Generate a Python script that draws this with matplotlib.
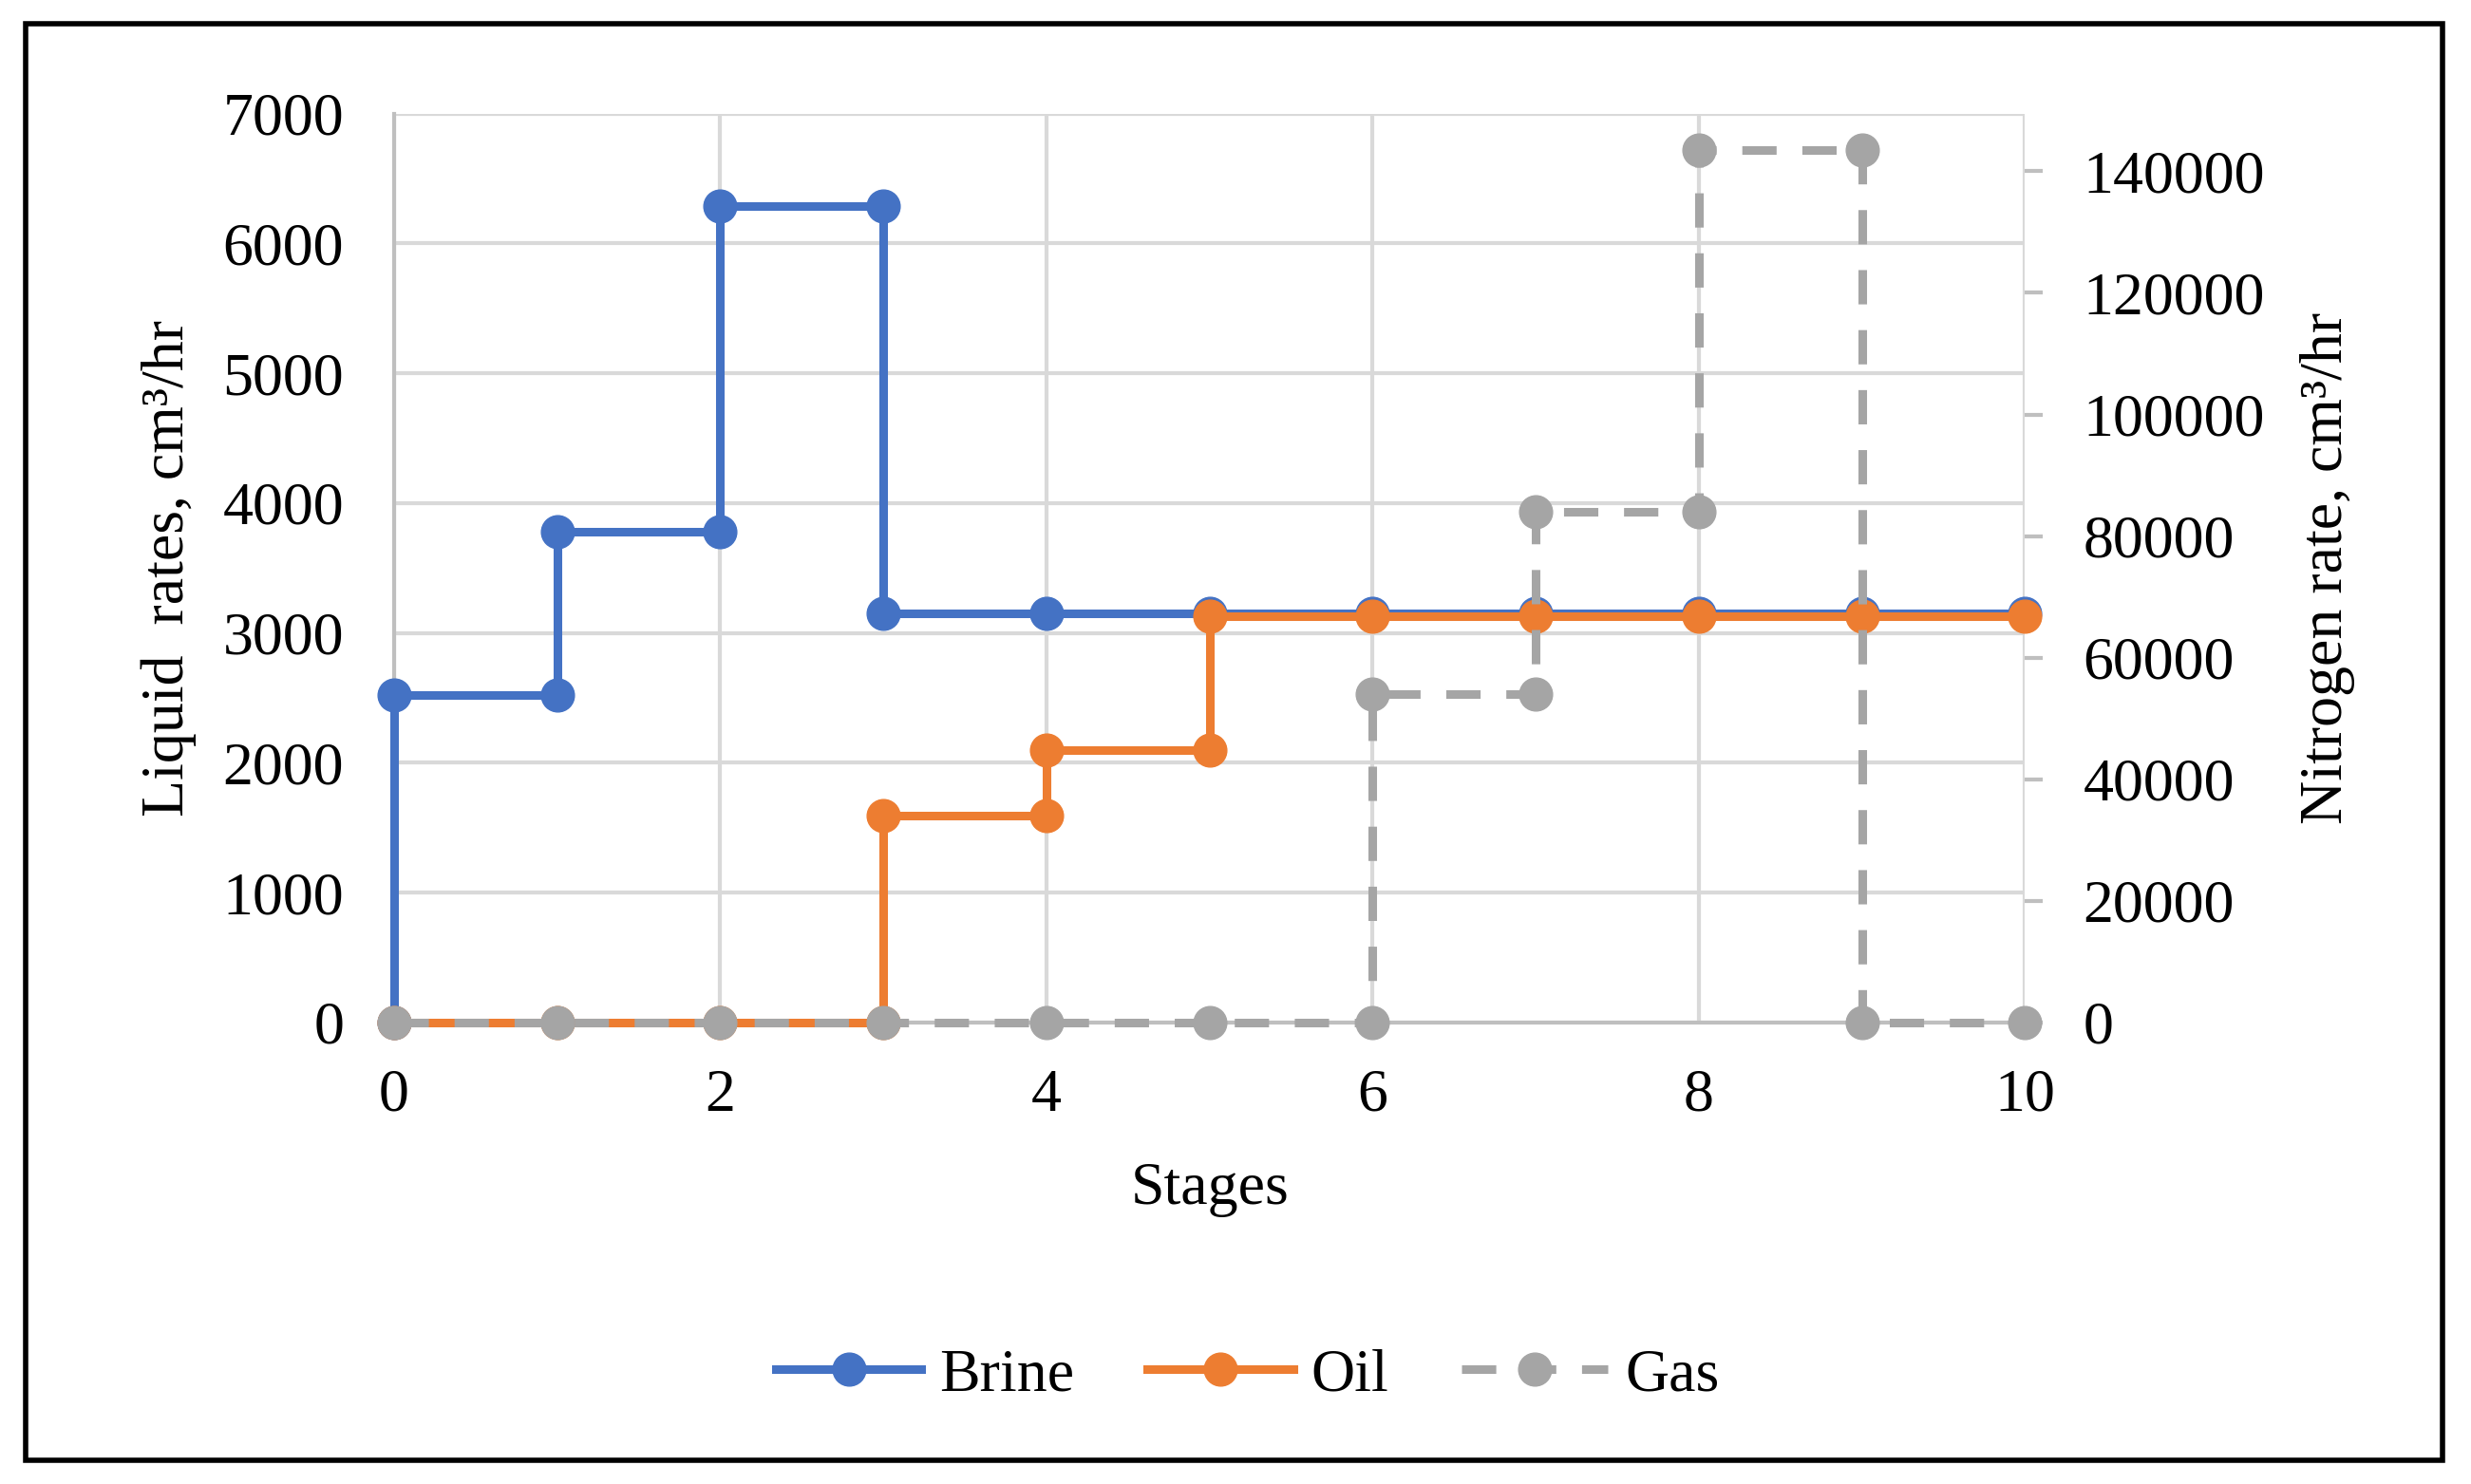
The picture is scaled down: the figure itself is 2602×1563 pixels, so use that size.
import matplotlib.pyplot as plt
from matplotlib.patches import Rectangle

# dados (escadas: pontos repetidos no mesmo estágio)
brine_x = [0, 0, 1, 1, 2, 2, 3, 3, 4, 5, 6, 7, 8, 9, 10]
brine_y = [0, 2520, 2520, 3780, 3780, 6290, 6290, 3150, 3150, 3150, 3150, 3150, 3150, 3150, 3150]

oil_x = [0, 1, 2, 3, 3, 4, 4, 5, 5, 6, 7, 8, 9, 10]
oil_y = [0, 0, 0, 0, 1590, 1590, 2100, 2100, 3130, 3130, 3130, 3130, 3130, 3130]

gas_x = [0, 1, 2, 3, 4, 5, 6, 6, 7, 7, 8, 8, 9, 9, 10]
gas_y = [0, 0, 0, 0, 0, 0, 0, 54000, 54000, 84000, 84000, 143500, 143500, 0, 0]

x_ticks = [0, 2, 4, 6, 8, 10]
left_ticks = [0, 1000, 2000, 3000, 4000, 5000, 6000, 7000]
right_ticks = [0, 20000, 40000, 60000, 80000, 100000, 120000, 140000]

plt.rcParams['font.family'] = ['Liberation Serif', 'DejaVu Serif']

fig = plt.figure(figsize=(26.02, 15.63), dpi=100)
ax = fig.add_axes([0.1595, 0.311, 0.66, 0.6125])
ax2 = ax.twinx()

grid_c = '#D9D9D9'
fs = 46

l1, = ax.plot(brine_x, brine_y, color='#4472C4', lw=6.5, marker='o', ms=25, label='Brine', zorder=3, clip_on=False)
l2, = ax.plot(oil_x, oil_y, color='#ED7D31', lw=6.5, marker='o', ms=25, label='Oil', zorder=4, clip_on=False)
l3, = ax2.plot(gas_x, gas_y, color='#A5A5A5', lw=6.5, marker='o', ms=25, dashes=(4, 3), label='Gas',
               zorder=3, clip_on=False)

ax.set_xlim(0, 10)
ax.set_ylim(0, 7000)
ax2.set_ylim(0, 149500)
ax.set_xticks(x_ticks)
ax.set_yticks(left_ticks)
ax2.set_yticks(right_ticks)

ax.grid(True, color=grid_c, lw=3)
ax.set_axisbelow(True)
for s in ['top', 'right']:
    ax.spines[s].set_visible(False)
    ax2.spines[s].set_visible(False)
ax2.spines['left'].set_visible(False)
ax2.spines['bottom'].set_visible(False)
ax.spines['left'].set_color('#BFBFBF')
ax.spines['bottom'].set_color('#BFBFBF')
ax.spines['left'].set_linewidth(3)
ax.spines['bottom'].set_linewidth(3)

ax.tick_params(axis='x', length=0, labelsize=fs, pad=35)
ax.tick_params(axis='y', length=0, labelsize=fs, pad=38)
ax2.tick_params(axis='y', length=14, width=3, color='#BFBFBF', labelsize=fs, pad=30)

ax.set_xlabel('Stages', fontsize=fs, labelpad=29)
ax.set_ylabel('Liquid  rates, cm³/hr', fontsize=fs, labelpad=20)
ax2.set_ylabel('Nitrogen rate, cm³/hr', fontsize=fs, labelpad=27)

fig.legend(handles=[l1, l2, l3], loc='center', bbox_to_anchor=(0.505, 0.073), ncol=3,
           frameon=False, fontsize=fs, handlelength=2.4, columnspacing=1.2, handletextpad=0.3)

# moldura preta em volta da figura
fig.patches.append(Rectangle((0.0105, 0.016), 0.978, 0.968, transform=fig.transFigure,
                             fill=False, edgecolor='black', lw=4))

fig.savefig('out.png', dpi=100)
